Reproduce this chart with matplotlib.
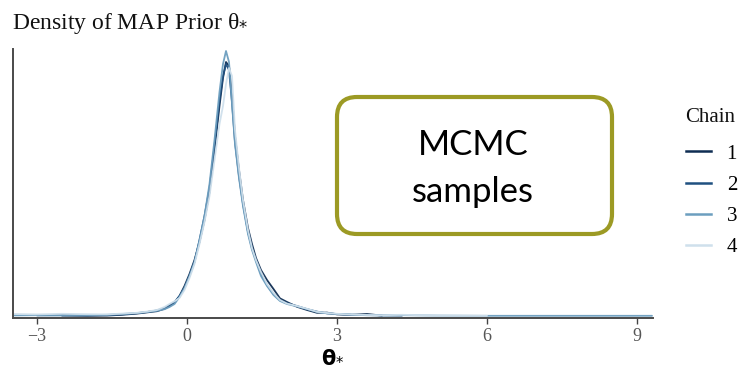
import numpy as np
import matplotlib.pyplot as plt
from matplotlib.patches import FancyBboxPatch
from matplotlib.lines import Line2D

nan = np.nan

# grid of theta values where the chain densities were evaluated
theta = [-3.45, -3.0, -2.5, -2.0, -1.6, -1.3, -1.0, -0.8,
         -0.6, -0.45, -0.35, -0.25, -0.15, -0.05,
         0.05, 0.15, 0.25, 0.35, 0.45, 0.55, 0.65, 0.72, 0.78, 0.84, 0.9, 0.96,
         1.04, 1.12, 1.22, 1.3, 1.38, 1.48, 1.6, 1.73, 1.86, 2.0,
         2.2, 2.4, 2.6, 2.8, 3.0, 3.3, 3.6, 3.9, 4.3,
         5.0, 6.0, 7.5, 9.3]

dens_chain1 = [nan, nan, 0.002, 0.001, 0.002, 0.006, 0.012, 0.018,
               0.024, 0.036, 0.05, 0.066, 0.1, 0.15,
               0.21, 0.28, 0.37, 0.48, 0.62, 0.83, 1.05, 1.19, 1.27, 1.25, 1.11, 0.9,
               0.73, 0.58, 0.44, 0.36, 0.29, 0.23, 0.18, 0.135, 0.088, 0.07,
               0.046, 0.03, 0.016, 0.017, 0.008, 0.006, 0.01, 0.002, nan,
               nan, nan, nan, nan]

dens_chain2 = [nan, 0.003, 0.004, 0.003, 0.005, 0.008, 0.014, 0.02,
               0.028, 0.04, 0.055, 0.07, 0.1, 0.14,
               0.2, 0.27, 0.38, 0.5, 0.64, 0.85, 1.08, 1.2, 1.26, 1.23, 1.07, 0.87,
               0.7, 0.56, 0.42, 0.34, 0.28, 0.21, 0.155, 0.11, 0.08, 0.064,
               0.05, 0.034, 0.022, 0.013, 0.01, 0.006, 0.004, 0.003, 0.002,
               nan, nan, nan, nan]

dens_chain3 = [0.003, 0.004, 0.003, 0.004, 0.006, 0.01, 0.015, 0.02,
               0.026, 0.034, 0.045, 0.06, 0.095, 0.14,
               0.2, 0.27, 0.38, 0.5, 0.66, 0.88, 1.12, 1.26, 1.325, 1.27, 1.06, 0.86,
               0.69, 0.55, 0.41, 0.33, 0.27, 0.2, 0.15, 0.105, 0.075, 0.06,
               0.048, 0.035, 0.02, 0.014, 0.01, 0.007, 0.005, 0.003, 0.004,
               0.002, 0.001, 0.001, 0.001]

dens_chain4 = [0.01, 0.008, 0.011, 0.009, 0.008, 0.012, 0.016, 0.022,
               0.03, 0.045, 0.06, 0.074, 0.09, 0.13,
               0.19, 0.26, 0.36, 0.47, 0.6, 0.78, 0.96, 1.05, 1.16, 1.24, 1.2, 0.93,
               0.74, 0.58, 0.43, 0.34, 0.28, 0.22, 0.16, 0.115, 0.08, 0.062,
               0.05, 0.036, 0.021, 0.015, 0.011, 0.007, 0.005, 0.004, 0.006,
               0.002, 0.001, nan, nan]

chains = ['1', '2', '3', '4']
chain_colors = ['#0f2d52', '#1f5080', '#6c9ebf', '#cfe0ec']

plt.rcParams['font.family'] = ['Liberation Serif', 'DejaVu Serif']

fig = plt.figure(figsize=(7.39, 3.66), dpi=100)
ax = fig.add_axes([13 / 739, 1 - 318 / 366, 640 / 739, 269 / 366])

for dens, col in zip([dens_chain1, dens_chain2, dens_chain3, dens_chain4], chain_colors):
    ax.plot(theta, dens, color=col, lw=1.3, alpha=0.95, solid_capstyle='round')

ax.set_xlim(-3.48, 9.32)
ax.set_ylim(-0.01, 1.335)
ax.set_yticks([])
ax.set_xticks([-3, 0, 3, 6, 9])
ax.tick_params(axis='x', length=4, width=1, color='#444444', labelsize=13,
               labelcolor='#555555', pad=3)
for side in ['top', 'right']:
    ax.spines[side].set_visible(False)
for side in ['left', 'bottom']:
    ax.spines[side].set_color('#4a4a4a')
    ax.spines[side].set_linewidth(1.4)

ax.set_xlabel(r'θ$_{*}$', family=['DejaVu Sans'], fontweight='bold', fontsize=15,
              labelpad=1)

fig.text(12 / 739, 1 - 29 / 366, r'Density of MAP Prior θ$_{*}$', fontsize=17,
         va='baseline', ha='left', color='#111111')

# legend for the chains
fig.text(685 / 739, 1 - 117 / 366, 'Chain', fontsize=15, va='center', ha='left',
         color='#111111')
handles = [Line2D([], [], color=c, lw=1.8) for c in chain_colors]
leg = ax.legend(handles, chains, loc='upper left',
                bbox_to_anchor=(686 / 739, 1 - 144 / 366), bbox_transform=fig.transFigure,
                frameon=False, fontsize=15, handlelength=1.2,
                handletextpad=0.75, labelspacing=0.56, borderpad=0, borderaxespad=0)

# callout box
box = FancyBboxPatch((3.37, 1.32), 2.75, 1.37, boxstyle='round,pad=0,rounding_size=0.2',
                     transform=fig.dpi_scale_trans, facecolor='white',
                     edgecolor='#9c9a24', lw=3)
fig.patches.append(box)
fig.text(4.73, 2.21, 'MCMC', transform=fig.dpi_scale_trans, family='Lato',
         fontsize=25, ha='center', va='center', color='black')
fig.text(4.73, 1.74, 'samples', transform=fig.dpi_scale_trans, family='Lato',
         fontsize=25, ha='center', va='center', color='black')

fig.savefig('out.png', dpi=100)
